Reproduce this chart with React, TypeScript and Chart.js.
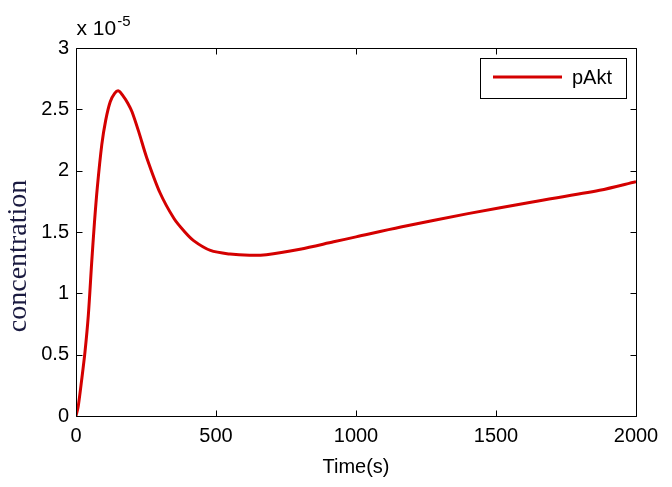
import React, { useEffect, useRef } from "react";
import { Chart, registerables } from "chart.js";

Chart.register(...registerables);

// Time (s)
const timeS = [0, 8, 20, 32, 44, 56, 66, 76, 92, 106, 122, 138, 152, 168, 185, 200, 225, 252, 300, 350, 385, 420, 480, 550, 620, 680, 800, 920, 1000, 1160, 1400, 1630, 1870, 2000];
// pAkt concentration, in units of 1e-5
const pAkt = [0, 0.08, 0.29, 0.52, 0.82, 1.25, 1.58, 1.86, 2.21, 2.41, 2.56, 2.63, 2.65, 2.61, 2.55, 2.48, 2.31, 2.11, 1.82, 1.61, 1.51, 1.43, 1.35, 1.32, 1.31, 1.315, 1.36, 1.42, 1.46, 1.54, 1.65, 1.745, 1.84, 1.91];

const xTicks = [0, 500, 1000, 1500, 2000];
const yTicks = [0, 0.5, 1, 1.5, 2, 2.5, 3];
const yExponent = "-5";
const seriesLabel = "pAkt";
const xTitle = "Time(s)";
const yTitle = "concentration";

const LINE_COLOR = "#d40000";
const SANS = "'Liberation Sans', Arial, sans-serif";
const SERIF = "'Liberation Serif', 'Times New Roman', serif";

const matlabPlugin = {
  id: "matlabFrame",
  afterDraw(chart: any) {
    const { ctx, chartArea } = chart;
    const { left, right, top, bottom } = chartArea;
    const x = chart.scales.x;
    const y = chart.scales.y;
    ctx.save();
    ctx.strokeStyle = "#000";
    ctx.lineWidth = 1;
    const L = Math.round(left) + 0.5;
    const R = Math.round(right) + 0.5;
    const T = Math.round(top) + 0.5;
    const B = Math.round(bottom) + 0.5;
    ctx.beginPath();
    ctx.rect(L, T, R - L, B - T);
    const tl = 6;
    for (const v of xTicks) {
      const px = Math.round(x.getPixelForValue(v)) + 0.5;
      ctx.moveTo(px, B);
      ctx.lineTo(px, B - tl);
      ctx.moveTo(px, T);
      ctx.lineTo(px, T + tl);
    }
    for (const v of yTicks) {
      const py = Math.round(y.getPixelForValue(v)) + 0.5;
      ctx.moveTo(L, py);
      ctx.lineTo(L + tl, py);
      ctx.moveTo(R, py);
      ctx.lineTo(R - tl, py);
    }
    ctx.stroke();

    // exponent label
    ctx.fillStyle = "#000";
    ctx.textBaseline = "alphabetic";
    ctx.textAlign = "left";
    ctx.font = `21px ${SANS}`;
    const base = "x 10";
    ctx.fillText(base, L, 35);
    const w = ctx.measureText(base).width;
    ctx.font = `15px ${SANS}`;
    ctx.fillText(yExponent, L + w + 1, 26);

    // x title
    ctx.font = `20px ${SANS}`;
    ctx.textAlign = "center";
    ctx.fillText(xTitle, (left + right) / 2, 473);

    // y title
    ctx.save();
    ctx.translate(26, 256);
    ctx.rotate(-Math.PI / 2);
    ctx.font = `28px ${SERIF}`;
    ctx.fillStyle = "#1a1a40";
    ctx.textAlign = "center";
    ctx.fillText(yTitle, 0, 0);
    ctx.restore();

    // legend
    const lx = 480.5, ly = 58.5, lw = 146, lh = 40;
    ctx.fillStyle = "#fff";
    ctx.fillRect(lx, ly, lw, lh);
    ctx.strokeStyle = "#000";
    ctx.lineWidth = 1;
    ctx.strokeRect(lx, ly, lw, lh);
    ctx.strokeStyle = LINE_COLOR;
    ctx.lineWidth = 3;
    ctx.beginPath();
    ctx.moveTo(493, 77);
    ctx.lineTo(562, 77);
    ctx.stroke();
    ctx.fillStyle = "#000";
    ctx.font = `20px ${SANS}`;
    ctx.textAlign = "left";
    ctx.textBaseline = "middle";
    ctx.fillText(seriesLabel, 572, 78);
    ctx.restore();
  },
};

function fmt(v: number) {
  return String(v);
}

export default function App() {
  const ref = useRef<HTMLCanvasElement | null>(null);
  useEffect(() => {
    if (!ref.current) return;
    const chart = new Chart(ref.current, {
      type: "line",
      data: {
        datasets: [
          {
            label: seriesLabel,
            data: timeS.map((t, i) => ({ x: t, y: pAkt[i] })),
            borderColor: LINE_COLOR,
            borderWidth: 3,
            pointRadius: 0,
            tension: 0.3,
            fill: false,
          },
        ],
      },
      options: {
        animation: false,
        responsive: true,
        maintainAspectRatio: false,
        layout: { padding: { left: 0, top: 48, right: 36, bottom: 0 } },
        plugins: {
          legend: { display: false },
          tooltip: { enabled: false },
        },
        scales: {
          x: {
            type: "linear",
            min: 0,
            max: 2000,
            grid: { display: false, drawTicks: false },
            border: { display: false },
            afterBuildTicks: (s: any) => {
              s.ticks = xTicks.map((v) => ({ value: v }));
            },
            afterFit: (s: any) => {
              s.height = 71;
            },
            ticks: {
              color: "#000",
              font: { family: SANS, size: 20 },
              padding: 8,
              maxRotation: 0,
              autoSkip: false,
              callback: (v: any) => fmt(Number(v)),
            },
          },
          y: {
            type: "linear",
            min: 0,
            max: 3,
            grid: { display: false, drawTicks: false },
            border: { display: false },
            afterBuildTicks: (s: any) => {
              s.ticks = yTicks.map((v) => ({ value: v }));
            },
            afterFit: (s: any) => {
              s.width = 76;
            },
            ticks: {
              color: "#000",
              font: { family: SANS, size: 20 },
              padding: 7,
              autoSkip: false,
              callback: (v: any) => fmt(Number(v)),
            },
          },
        },
      },
      plugins: [matlabPlugin],
    } as any);
    return () => chart.destroy();
  }, []);
  return (
    <div style={{ position: "fixed", left: 0, top: 0, width: 672, height: 487, background: "#fff" }}>
      <canvas ref={ref} />
    </div>
  );
}
